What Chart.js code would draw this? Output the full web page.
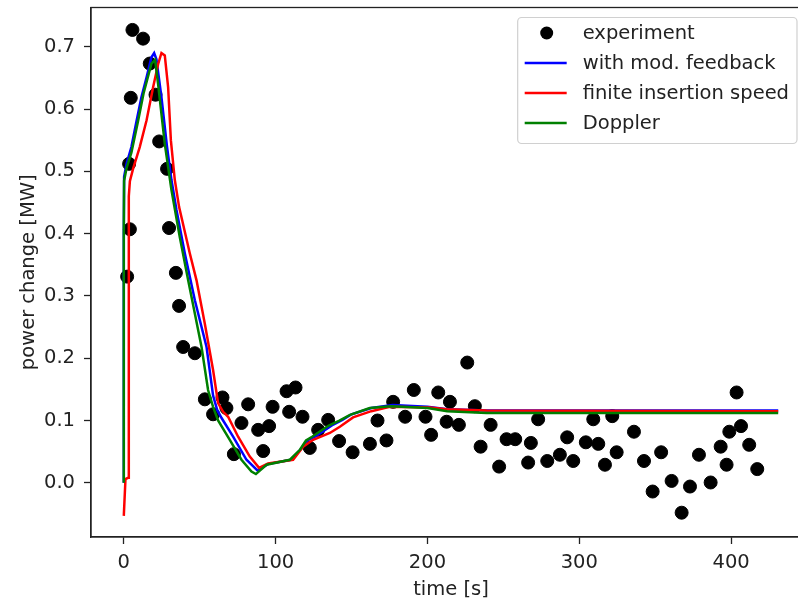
<!DOCTYPE html>
<html>
<head>
<meta charset="utf-8">
<title>power change</title>
<script src="https://cdn.jsdelivr.net/npm/chart.js@4.4.1/dist/chart.umd.min.js"></script>
<style>
	html, body { margin: 0; padding: 0; background: #fff; overflow: hidden; }
	#wrap { width: 830px; height: 605px; }
</style>
</head>
<body>
<div id="wrap"><canvas id="chart" width="830" height="605"></canvas></div>
<script>
// experiment (time [s], power change [MW])
var expTime = [2.2, 3.5, 4.0, 4.6, 5.7, 12.7, 17.1, 20.9, 23.3, 28.5, 29.8, 34.3, 36.4, 39.1, 46.8,
	53.4, 58.8, 65.0, 67.6, 72.5, 77.5, 81.9, 88.5, 91.8, 95.7, 98.0, 107.2, 108.9, 113.1, 117.7,
	122.5, 128.0, 134.6, 141.8, 150.7, 162.1, 167.1, 173.0, 177.4, 185.3, 191.0, 198.7, 202.4, 207.1,
	212.6, 214.8, 220.7, 226.2, 231.2, 235.0, 241.6, 247.2, 252.1, 257.8, 266.3, 268.1, 272.9, 278.9,
	287.2, 292.0, 296.0, 304.3, 309.2, 312.5, 316.9, 321.7, 324.6, 336.0, 342.6, 348.3, 353.9, 360.8,
	367.4, 372.9, 378.8, 386.5, 393.1, 397.0, 398.8, 403.6, 406.5, 411.9, 417.2];
var expPower = [0.331, 0.512, 0.407, 0.618, 0.727, 0.713, 0.673, 0.623, 0.548, 0.504, 0.409, 0.337, 0.284, 0.218, 0.208,
	0.134, 0.110, 0.137, 0.120, 0.046, 0.096, 0.126, 0.085, 0.051, 0.091, 0.122, 0.147, 0.114, 0.153, 0.106,
	0.056, 0.085, 0.101, 0.067, 0.049, 0.0625, 0.100, 0.068, 0.130, 0.106, 0.149, 0.106, 0.077, 0.145,
	0.098, 0.130, 0.093, 0.193, 0.123, 0.058, 0.093, 0.026, 0.070, 0.070, 0.0325, 0.064, 0.102, 0.035,
	0.045, 0.073, 0.035, 0.065, 0.102, 0.0625, 0.029, 0.107, 0.049, 0.082, 0.035, -0.014, 0.049, 0.003,
	-0.048, -0.006, 0.045, 0.0005, 0.058, 0.029, 0.082, 0.145, 0.091, 0.061, 0.022];

// with mod. feedback
var fbTime = [0, 0, 0.2, 1.8, 5, 8.4, 11.6, 15, 18.2, 20, 21.5, 24.8, 28.5, 31.4, 34.7, 40.2, 46.8,
	54.5, 58.8, 61.5, 64.4, 72, 80.8, 88, 95, 110, 117, 121, 126, 137, 144, 150, 163, 177, 200, 213, 239, 431];
var fbPower = [0, 0.40, 0.491, 0.512, 0.539, 0.581, 0.619, 0.651, 0.683, 0.690, 0.680, 0.619, 0.539, 0.486, 0.438, 0.368, 0.293,
	0.218, 0.140, 0.117, 0.104, 0.074, 0.037, 0.020, 0.030, 0.037, 0.055, 0.068, 0.074, 0.092, 0.101, 0.110, 0.120, 0.125, 0.122, 0.118, 0.116, 0.116];

// finite insertion speed
var fisTime = [0, 1.1, 2.8, 3.3, 4, 6.1, 10.5, 15, 19.3, 22.6, 24.8, 27, 29.2, 31, 33.6, 36.4, 43.5, 47.9,
	53.4, 58.8, 62.1, 65.4, 68.7, 75.3, 83, 89.1, 95, 111.5, 118.1, 124.7, 135.7, 142.3, 151, 163, 175.2, 201.6, 212.6, 238.9, 431];
var fisPower = [-0.053, 0.006, 0.008, 0.46, 0.484, 0.504, 0.539, 0.582, 0.635, 0.672, 0.690, 0.686, 0.635, 0.550, 0.486, 0.443, 0.368, 0.325,
	0.255, 0.181, 0.128, 0.114, 0.106, 0.074, 0.042, 0.024, 0.031, 0.037, 0.058, 0.069, 0.080, 0.090, 0.105, 0.115, 0.122, 0.121, 0.118, 0.116, 0.115];

// Doppler
var dopTime = [0, 0, 0.2, 1.8, 5, 9.4, 13, 18.2, 20.6, 22.6, 27, 31.4, 36.9, 42.4, 51.2, 55.5, 58.8, 62.1,
	69.8, 77.5, 84.1, 87, 94, 109.4, 116, 120, 124, 135, 142, 149, 162, 176, 200, 213, 239, 431];
var dopPower = [0, 0.40, 0.485, 0.505, 0.530, 0.581, 0.625, 0.673, 0.679, 0.640, 0.544, 0.470, 0.394, 0.325, 0.218, 0.149, 0.122, 0.100,
	0.069, 0.037, 0.018, 0.014, 0.029, 0.037, 0.053, 0.068, 0.074, 0.092, 0.100, 0.109, 0.120, 0.123, 0.120, 0.115, 0.112, 0.112];

var xTicks = [0, 100, 200, 300, 400];
var yTicks = [0.0, 0.1, 0.2, 0.3, 0.4, 0.5, 0.6, 0.7];

var FONT = "'DejaVu Sans', sans-serif";
var FONT_SIZE = 19.5;

var toPoints = function (xs, ys) {
	return xs.map(function (x, i) {
		return { x: x, y: ys[i] };
	});
};

var lineSet = function (label, colour, xs, ys, order) {
	return {
		type: "line",
		label: label,
		data: toPoints(xs, ys),
		borderColor: colour,
		backgroundColor: colour,
		borderWidth: 2.5,
		pointRadius: 0,
		tension: 0,
		fill: false,
		order: order,
	};
};

// matplotlib-like frame and legend box inside the axes
var framePlugin = {
	id: "frame",
	afterDatasetsDraw: function (chart) {
		var ctx = chart.ctx;
		var a = chart.chartArea;

		ctx.save();
		ctx.strokeStyle = "#222";
		ctx.lineWidth = 1.3;
		ctx.strokeRect(a.left, a.top, a.right - a.left, a.bottom - a.top);
		ctx.restore();

		var entries = [
			{ text: "experiment", colour: "#000", marker: true },
			{ text: "with mod. feedback", colour: "#0000ff" },
			{ text: "finite insertion speed", colour: "#ff0000" },
			{ text: "Doppler", colour: "#008000" },
		];

		ctx.save();
		ctx.font = FONT_SIZE + "px " + FONT;
		var maxW = 0;
		entries.forEach(function (e) {
			maxW = Math.max(maxW, ctx.measureText(e.text).width);
		});

		var right = a.right - 14;
		var top = a.top + 10;
		var width = 65 + maxW + 8;
		var left = right - width;
		var height = 126;

		ctx.beginPath();
		ctx.roundRect(left, top, width, height, 4);
		ctx.fillStyle = "rgba(255,255,255,0.8)";
		ctx.fill();
		ctx.strokeStyle = "#d0d0d0";
		ctx.lineWidth = 1.2;
		ctx.stroke();

		ctx.textBaseline = "middle";
		ctx.textAlign = "left";
		entries.forEach(function (e, i) {
			var cy = top + 15.5 + i * 30;
			if (e.marker) {
				ctx.beginPath();
				ctx.arc(left + 29, cy, 6.5, 0, Math.PI * 2);
				ctx.fillStyle = e.colour;
				ctx.fill();
			} else {
				ctx.beginPath();
				ctx.moveTo(left + 7, cy);
				ctx.lineTo(left + 49, cy);
				ctx.strokeStyle = e.colour;
				ctx.lineWidth = 2.5;
				ctx.stroke();
			}
			ctx.fillStyle = "#222";
			ctx.fillText(e.text, left + 65, cy + 1);
		});
		ctx.restore();
	},
};

var keepTicks = function (values) {
	return function (scale) {
		scale.ticks = values.map(function (v) {
			return { value: v };
		});
	};
};

new Chart(document.getElementById("chart"), {
	type: "scatter",
	data: {
		datasets: [
			{
				type: "scatter",
				label: "experiment",
				data: toPoints(expTime, expPower),
				backgroundColor: "#000",
				borderColor: "#000",
				pointRadius: 6.5,
				pointHoverRadius: 6.5,
				order: 3,
			},
			lineSet("with mod. feedback", "#0000ff", fbTime, fbPower, 2),
			lineSet("finite insertion speed", "#ff0000", fisTime, fisPower, 1),
			lineSet("Doppler", "#008000", dopTime, dopPower, 0),
		],
	},
	options: {
		responsive: false,
		animation: false,
		devicePixelRatio: 1,
		layout: { padding: { top: 7, right: 19, left: 0, bottom: 0 } },
		plugins: {
			legend: { display: false },
			tooltip: { enabled: false },
		},
		scales: {
			x: {
				type: "linear",
				min: -21.6,
				max: 452.6,
				afterBuildTicks: keepTicks(xTicks),
				afterFit: function (scale) {
					scale.height = 68;
					scale.paddingLeft = 0;
					scale.paddingRight = 0;
				},
				grid: { drawOnChartArea: false, drawTicks: true, tickLength: 7, tickColor: "#222", tickWidth: 1.3 },
				border: { display: true, color: "#222", width: 1.3 },
				ticks: {
					color: "#222",
					padding: 7,
					font: { family: FONT, size: FONT_SIZE },
					callback: function (v) {
						return String(v);
					},
				},
				title: {
					display: true,
					text: "time [s]",
					color: "#222",
					font: { family: FONT, size: FONT_SIZE },
					padding: { top: 0, bottom: 3 },
				},
			},
			y: {
				type: "linear",
				min: -0.087,
				max: 0.763,
				afterBuildTicks: keepTicks(yTicks),
				afterFit: function (scale) {
					scale.width = 91;
					scale.paddingTop = 0;
					scale.paddingBottom = 0;
				},
				grid: { drawOnChartArea: false, drawTicks: true, tickLength: 7, tickColor: "#222", tickWidth: 1.3 },
				border: { display: true, color: "#222", width: 1.3 },
				ticks: {
					color: "#222",
					padding: 9,
					font: { family: FONT, size: FONT_SIZE },
					callback: function (v) {
						return v.toFixed(1);
					},
				},
				title: {
					display: true,
					text: "power change [MW]",
					color: "#222",
					font: { family: FONT, size: FONT_SIZE },
					padding: { top: 17, bottom: 0 },
				},
			},
		},
	},
	plugins: [framePlugin],
});
</script>
</body>
</html>
